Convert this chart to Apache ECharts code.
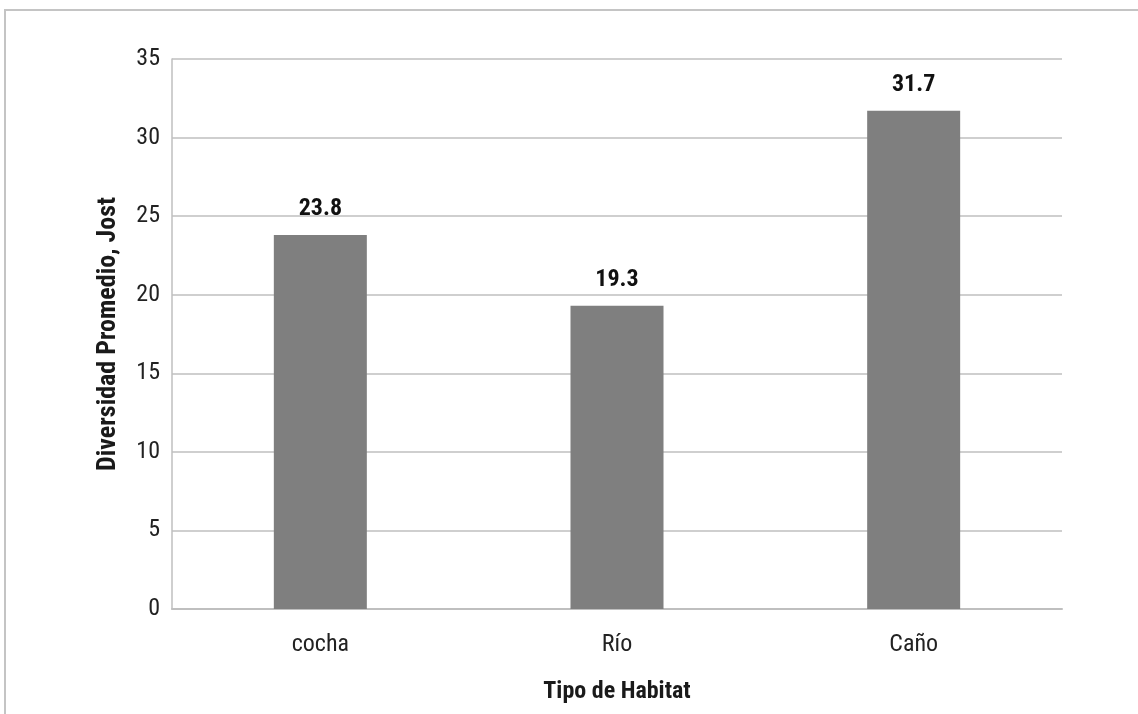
<!DOCTYPE html>
<html>
<head>
<meta charset="utf-8">
<script src="https://cdn.jsdelivr.net/npm/echarts@6/dist/echarts.min.js"></script>
<style>
  html, body { margin: 0; padding: 0; background: #fff; }
  #chart { width: 1138px; height: 714px; }
</style>
</head>
<body>
<div id="chart"></div>
<script>
// Average Jost diversity per habitat type
const habitats = ['cocha', 'Río', 'Caño'];
const diversity = [23.8, 19.3, 31.7];
const yTicks = { min: 0, max: 35, interval: 5 };

const FONT = '"Roboto Condensed", "Liberation Sans Narrow", "DejaVu Sans Condensed", Roboto, sans-serif';

const chart = echarts.init(document.getElementById('chart'), null, { renderer: 'canvas' });
chart.setOption({
  backgroundColor: '#ffffff',
  animation: false,
  graphic: [{
    type: 'rect',
    shape: { x: 5, y: 10, width: 1300, height: 900 },
    style: { fill: 'none', stroke: '#c4c4c4', lineWidth: 2 },
    silent: true
  }],
  grid: { left: 172, right: 76, top: 59, bottom: 105 },
  xAxis: {
    type: 'category',
    data: habitats,
    name: 'Tipo de Habitat',
    nameLocation: 'middle',
    nameGap: 71,
    nameTextStyle: { fontFamily: FONT, fontWeight: 'bold', fontSize: 24, color: '#1a1a1a' },
    axisLine: { lineStyle: { color: '#bfbfbf', width: 2 } },
    axisTick: { show: false },
    axisLabel: { fontFamily: FONT, fontSize: 24, color: '#222222', margin: 24 }
  },
  yAxis: {
    type: 'value',
    min: yTicks.min,
    max: yTicks.max,
    interval: yTicks.interval,
    name: 'Diversidad Promedio, Jost',
    nameLocation: 'middle',
    nameGap: 51,
    nameRotate: 90,
    nameTextStyle: { fontFamily: FONT, fontWeight: 'bold', fontSize: 26, color: '#1a1a1a' },
    axisLine: { show: true, lineStyle: { color: '#bfbfbf', width: 1.5 } },
    axisTick: { show: false },
    axisLabel: { fontFamily: FONT, fontSize: 24, color: '#222222', margin: 12 },
    splitLine: { lineStyle: { color: '#bfbfbf', width: 1.5 } }
  },
  series: [{
    type: 'bar',
    data: diversity,
    barWidth: 93,
    itemStyle: { color: '#7f7f7f' },
    label: {
      show: true,
      position: 'top',
      distance: 14,
      fontFamily: FONT,
      fontWeight: 'bold',
      fontSize: 24,
      color: '#111111',
      formatter: p => p.value.toFixed(1)
    }
  }]
});
</script>
</body>
</html>
